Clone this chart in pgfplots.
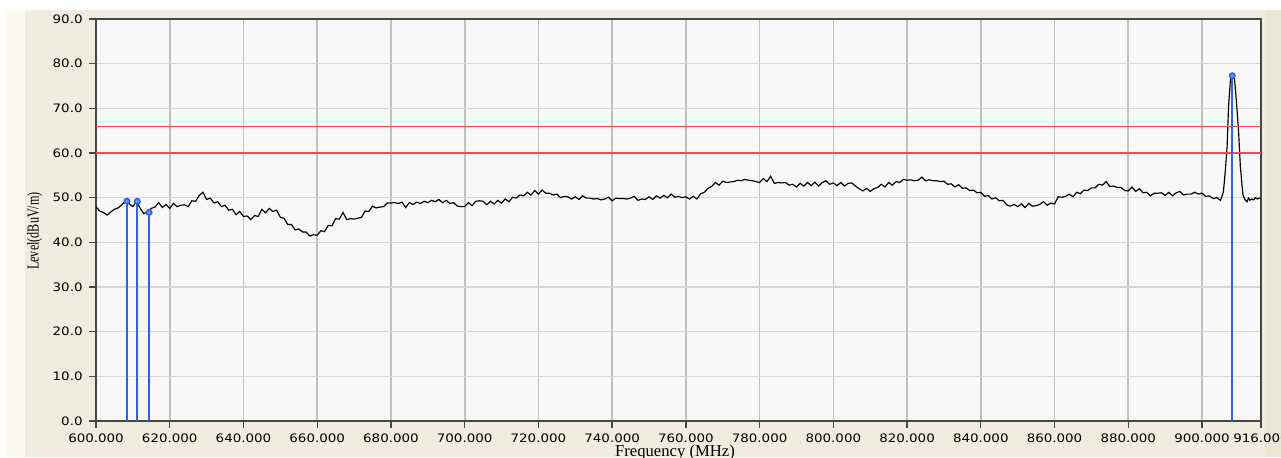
\documentclass[border=0pt]{standalone}
\usepackage{fontspec}
\setmainfont{Liberation Serif}
\newfontfamily\dejavu{DejaVu Sans}
\usepackage{pgfplots}
\pgfplotsset{compat=1.18}
\definecolor{bgbeige}{RGB}{240,237,222}
\definecolor{bgcream}{RGB}{251,249,236}
\definecolor{bgright}{RGB}{234,231,215}
\definecolor{plotbg}{RGB}{248,248,248}
\definecolor{vgrid}{RGB}{192,192,192}
\definecolor{hgrid}{RGB}{214,214,214}
\definecolor{mkblue}{RGB}{50,100,225}
\definecolor{limred}{RGB}{255,70,70}
\definecolor{axdark}{RGB}{70,70,70}
\begin{document}
\begin{tikzpicture}
\useasboundingbox (0,0) rectangle (768.6pt,274.2pt);
\clip (0,0) rectangle (768.6pt,274.2pt);
\fill[white] (0,0) rectangle (768.6pt,274.2pt);
\fill[bgbeige] (3.6pt,0) rectangle (768.6pt,268.2pt);
\fill[bgcream] (3.6pt,0) rectangle (15pt,268.2pt);
\fill[bgright] (759pt,0) rectangle (768.6pt,268.2pt);
\begin{axis}[
  at={(57.6pt,21.6pt)}, anchor=south west,
  scale only axis, width=699pt, height=241.2pt,
  xmin=600, xmax=916, ymin=0, ymax=90,
  axis background/.style={fill=plotbg},
  xtick={600,620,640,660,680,700,720,740,760,780,800,820,840,860,880,900,916},
  ytick={0,10,20,30,40,50,60,70,80,90},
  grid=major,
  x grid style={vgrid, line width=1pt},
  y grid style={hgrid, line width=0.8pt},
  axis line style={axdark, line width=0.9pt},
  tick align=outside, tick pos=left,
  major tick length=4pt,
  tick style={axdark, line width=0.8pt},
  /pgf/number format/assume math mode=true,
  xticklabel style={/pgf/number format/fixed, /pgf/number format/fixed zerofill, /pgf/number format/precision=3},
  yticklabel style={/pgf/number format/fixed, /pgf/number format/fixed zerofill, /pgf/number format/precision=1},
  ticklabel style={font=\dejavu\fontsize{7}{8}\selectfont, xscale=1.15},
  xlabel={Frequency (MHz)},
  xlabel style={font=\fontsize{10}{12}\selectfont, at={(axis description cs:0.497,0)}, anchor=base, yshift=-21pt},
  ylabel={Level(dBuV/m)},
  ylabel style={font=\fontsize{10}{12}\selectfont, at={(axis description cs:-0.0528,0.4726)}, anchor=center, xscale=0.73},
]
\addplot[black, line width=0.7pt] coordinates {
(600,48.0)(601,47.0)(602,46.7)(603,46.1)(604,46.8)(605,47.4)(606,47.7)(607,48.4)(608,49.3)(609,48.6)
(610,48.0)(611,49.2)(612,47.6)(613,46.4)(614,47.0)(615,47.6)(616,47.9)(617,48.9)(618,47.8)(619,48.5)
(620,47.6)(621,48.7)(622,48.0)(623,48.3)(624,48.4)(625,48.0)(626,49.3)(627,49.2)(628,50.5)(629,51.2)
(630,49.6)(631,49.9)(632,48.8)(633,49.1)(634,48.0)(635,48.3)(636,47.2)(637,47.4)(638,46.2)(639,46.9)
(640,45.8)(641,45.9)(642,45.1)(643,46.0)(644,45.8)(645,47.4)(646,46.6)(647,47.6)(648,46.9)(649,47.2)
(650,45.6)(651,45.4)(652,44.0)(653,44.0)(654,42.8)(655,43.0)(656,42.3)(657,42.3)(658,41.4)(659,41.7)
(660,41.6)(661,42.6)(662,42.4)(663,43.8)(664,43.7)(665,45.3)(666,45.2)(667,46.7)(668,45.1)(669,45.3)
(670,45.2)(671,45.4)(672,45.6)(673,47.0)(674,46.9)(675,48.1)(676,47.7)(677,47.9)(678,48.0)(679,48.8)
(680,48.8)(681,48.9)(682,48.7)(683,49.0)(684,47.8)(685,48.9)(686,48.5)(687,49.0)(688,48.7)(689,49.2)
(690,48.9)(691,49.4)(692,49.1)(693,49.6)(694,48.9)(695,49.4)(696,48.7)(697,48.9)(698,48.1)(699,48.0)
(700,48.0)(701,48.9)(702,48.2)(703,49.2)(704,49.3)(705,49.2)(706,48.4)(707,49.2)(708,48.6)(709,49.4)
(710,48.8)(711,49.7)(712,49.1)(713,50.1)(714,49.9)(715,50.6)(716,50.4)(717,51.2)(718,50.6)(719,51.6)
(720,50.8)(721,51.7)(722,51.0)(723,51.0)(724,50.6)(725,50.8)(726,50.0)(727,50.3)(728,50.2)(729,49.7)
(730,50.2)(731,49.6)(732,50.4)(733,49.9)(734,49.9)(735,49.7)(736,49.8)(737,49.5)(738,49.7)(739,50.1)
(740,49.3)(741,49.9)(742,49.8)(743,49.8)(744,49.7)(745,49.9)(746,50.3)(747,49.4)(748,49.7)(749,49.6)
(750,50.2)(751,49.6)(752,50.4)(753,49.9)(754,50.5)(755,50.0)(756,50.8)(757,50.1)(758,50.3)(759,50.0)
(760,50.2)(761,49.7)(762,50.3)(763,49.7)(764,50.9)(765,51.2)(766,52.1)(767,52.5)(768,53.4)(769,52.8)
(770,53.7)(771,53.4)(772,53.5)(773,53.6)(774,53.9)(775,53.8)(776,54.1)(777,53.9)(778,53.8)(779,53.6)
(780,53.4)(781,54.3)(782,53.6)(783,54.8)(784,53.2)(785,53.4)(786,53.3)(787,53.4)(788,52.8)(789,53.0)
(790,52.4)(791,53.2)(792,52.6)(793,53.4)(794,52.7)(795,53.5)(796,52.6)(797,53.4)(798,53.8)(799,53.0)
(800,53.3)(801,52.7)(802,53.4)(803,52.6)(804,53.2)(805,53.3)(806,52.6)(807,52.0)(808,51.5)(809,52.1)
(810,51.4)(811,52.0)(812,52.3)(813,53.0)(814,52.4)(815,53.4)(816,52.8)(817,53.6)(818,53.4)(819,54.1)
(820,53.9)(821,54.0)(822,53.8)(823,53.9)(824,54.6)(825,53.8)(826,54.0)(827,53.8)(828,53.8)(829,53.6)
(830,53.7)(831,53.0)(832,53.1)(833,52.4)(834,52.9)(835,52.1)(836,52.2)(837,51.6)(838,51.7)(839,51.1)
(840,51.2)(841,50.3)(842,50.5)(843,49.7)(844,50.0)(845,49.3)(846,49.4)(847,48.4)(848,48.1)(849,48.5)
(850,48.0)(851,48.6)(852,47.8)(853,48.7)(854,48.1)(855,48.2)(856,48.5)(857,49.1)(858,48.3)(859,48.8)
(860,48.6)(861,50.2)(862,50.1)(863,50.3)(864,50.8)(865,50.2)(866,51.2)(867,50.9)(868,51.7)(869,51.6)
(870,52.2)(871,52.2)(872,53.0)(873,52.8)(874,53.6)(875,52.5)(876,52.6)(877,52.3)(878,52.3)(879,51.6)
(880,51.5)(881,52.4)(882,51.4)(883,52.0)(884,51.1)(885,51.2)(886,50.4)(887,51.0)(888,51.0)(889,51.1)
(890,50.5)(891,51.2)(892,50.4)(893,51.1)(894,51.4)(895,50.6)(896,50.8)(897,50.8)(898,51.2)(899,50.8)
(900,51.0)(901,50.3)(902,50.4)(903,49.8)(904,50.0)(905,49.4)(905.6,50.8)(905.8,51.3)(906.3,55.8)
(906.8,61.4)(907.2,70.4)(907.7,76.3)(908.1,77.2)(908.8,76.7)(909.3,71.9)(909.9,65.1)(910.4,56.9)
(911.1,50.6)(911.7,49.5)(912.2,49.1)(912.6,49.9)(913.0,49.4)(913.5,49.7)(914.0,49.5)(914.5,50.0)
(915.0,49.7)(915.5,49.9)(916,49.9)
};
\addplot[limred, line width=0.7pt] coordinates {(600,66)(916,66)};
\addplot[limred, line width=0.7pt] coordinates {(600,60)(916,60)};
\addplot[ycomb, mkblue, line width=1pt, mark=*, mark size=1.6pt, mark options={fill=mkblue!70!white}] coordinates {(608.4,49.2)(611.2,49.2)(614.4,46.7)(908.2,77.3)};
\end{axis}
\end{tikzpicture}
\end{document}
